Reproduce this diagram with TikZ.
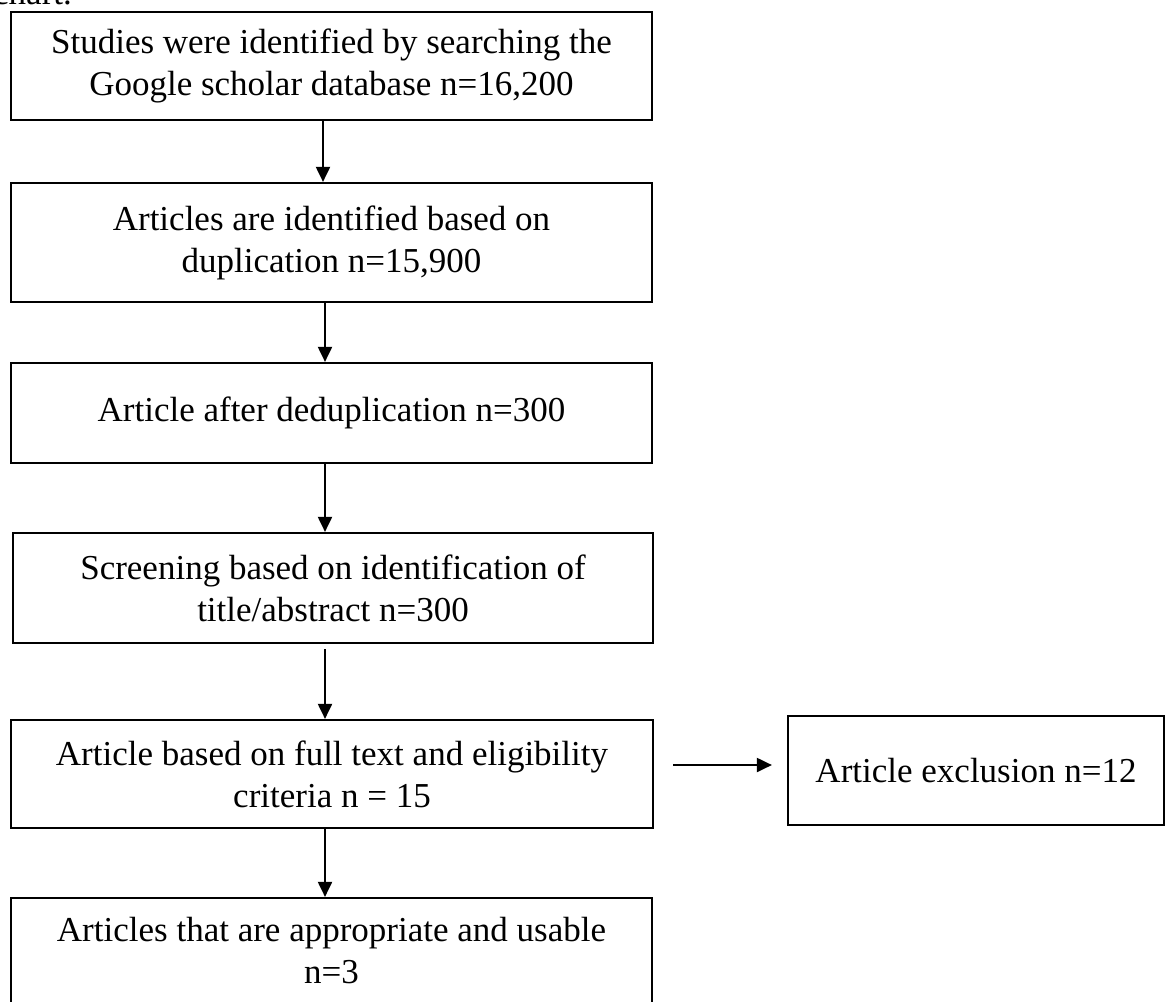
\documentclass[tikz,border=0pt]{standalone}
\usepackage{fontspec}
\setmainfont{Liberation Serif}
\usetikzlibrary{arrows.meta}
\begin{document}
\begin{tikzpicture}[x=1pt,y=-1pt,
  txt/.style={font=\fontsize{35}{42}\selectfont},
  box/.style={txt, draw, line width=2.2pt, align=center, inner sep=0pt},
  arr/.style={line width=2pt, -{Triangle[length=15pt,width=14pt]}}]
\useasboundingbox (0,0) rectangle (1166,1001);
\clip (0,0) rectangle (1166,1001);
\fill[white] (0,0) rectangle (1166,1001);
\node[txt, anchor=base west, inner sep=0pt] (cap) at (-7,5) {chart.};
\node[box, minimum width=641pt, minimum height=108pt] (b1) at (331.5,66)
  {Studies were identified by searching the\\Google scholar database n=16,200};
\node[box, minimum width=641pt, minimum height=119pt] (b2) at (331.5,242.5)
  {Articles are identified based on\\duplication n=15,900};
\node[box, minimum width=641pt, minimum height=100pt] (b3) at (331.5,413)
  {Article after deduplication n=300};
\node[box, minimum width=640pt, minimum height=110pt] (b4) at (333,588)
  {Screening based on identification of\\title/abstract n=300};
\node[box, minimum width=642pt, minimum height=108pt] (b5) at (332,774)
  {Article based on full text and eligibility\\criteria n = 15};
\node[box, minimum width=376pt, minimum height=109pt] (b6) at (976,770.5)
  {Article exclusion n=12};
\node[box, minimum width=641pt, minimum height=106pt] (b7) at (331.5,951)
  {Articles that are appropriate and usable\\n=3};
\coordinate (ax) at (325,0);
\coordinate (ax1) at (323,0);
\coordinate (hy) at (0,765);
\draw[arr] (b1.south -| ax1) -- (b2.north -| ax1);
\draw[arr] (b2.south -| ax) -- (b3.north -| ax);
\draw[arr] (b3.south -| ax) -- (b4.north -| ax);
\draw[arr, shorten <=5pt] (b4.south -| ax) -- (b5.north -| ax);
\draw[arr] (b5.south -| ax) -- (b7.north -| ax);
\draw[arr, shorten <=19pt, shorten >=15pt] (b5.east |- hy) -- (b6.west |- hy);
\end{tikzpicture}
\end{document}
